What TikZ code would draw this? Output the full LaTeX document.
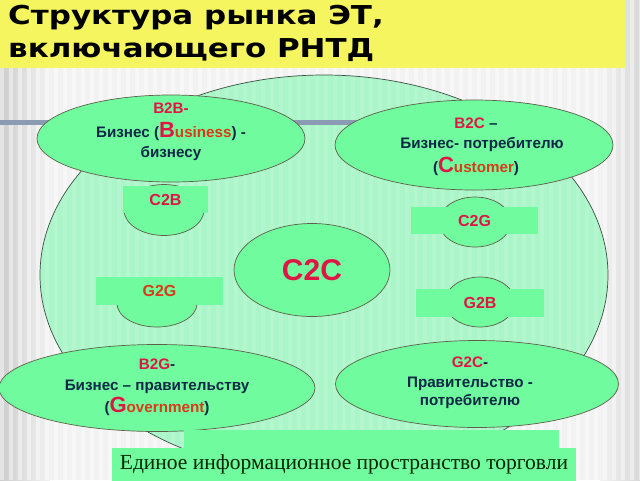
\documentclass[tikz,border=0pt]{standalone}
\usepackage{fontspec}
\setmainfont{Liberation Sans}
\newfontfamily\titlefont[FakeStretch=1.19]{DejaVu Sans}
\newfontfamily\seriffont{Liberation Serif}
\usetikzlibrary{shapes.geometric}
\definecolor{ttlyellow}{RGB}{245,245,95}
\definecolor{paleg}{RGB}{170,246,200}
\definecolor{mint}{RGB}{112,252,158}
\definecolor{edgec}{RGB}{95,95,75}
\definecolor{bigedge}{RGB}{60,80,70}
\definecolor{crim}{RGB}{222,22,70}
\definecolor{orng}{RGB}{215,60,25}
\definecolor{navy}{RGB}{12,40,70}
\definecolor{barc}{RGB}{140,155,180}
\definecolor{bgc}{RGB}{242,242,242}
\definecolor{bgdark}{RGB}{205,205,205}
\begin{document}
\begin{tikzpicture}[x=1pt,y=-1pt,
  ell/.style={ellipse, draw=edgec, line width=0.7pt, fill=mint, inner sep=0pt},
  patch/.style={rectangle, fill=mint, inner sep=0pt, font=\bfseries\fontsize{16}{16}\selectfont, text=crim},
  txt/.style={anchor=base, font=\bfseries\fontsize{15.2}{16}\selectfont, text=navy, inner sep=0pt},
  ttl/.style={anchor=base west, font=\titlefont\bfseries\fontsize{26}{26}\selectfont, text=black, inner sep=0pt}
]
\useasboundingbox (0,0) rectangle (640,480);
% background
\fill[bgc] (0,0) rectangle (640,480);
\shade[left color=bgdark, right color=bgc] (0,0) rectangle (50,480);
\shade[left color=bgc, right color=bgdark!70!bgc] (600,0) rectangle (640,480);
\foreach \i in {0,...,71} { \fill[white, opacity=0.45] (\i*9,0) rectangle (\i*9+4,480); }
% title
\fill[ttlyellow] (0,0) rectangle (625,68);
\node[ttl] (t1) at (8,24) {Структура рынка ЭТ,};
\node[ttl] (t2) at (8,57) {включающего РНТД};
% big ellipse
\node[ellipse, draw=bigedge, line width=0.7pt, fill=paleg, minimum width=568, minimum height=400, inner sep=0pt] (big) at (324,275) {};
\begin{scope}
\clip (324,275) ellipse [x radius=283, y radius=199];
\foreach \i in {5,...,70} { \fill[white, opacity=0.12] (\i*9,70) rectangle (\i*9+4,480); }
\end{scope}
% bar
\draw[barc, line width=5pt] (0,122) -- (470,122);
% small ellipses with patches
\node[ell, minimum width=80, minimum height=51] (c2bE) at (164,210) {};
\node[patch, minimum width=85, minimum height=27] (c2b) at (165.5,199.5) {C2B};
\node[ell, minimum width=80, minimum height=47] (g2gE) at (157,303.5) {};
\node[patch, minimum width=127, minimum height=28, text=orng] (g2g) at (159.5,291) {G2G};
\node[ell, minimum width=72, minimum height=50] (c2gE) at (475,222) {};
\node[patch, minimum width=127, minimum height=27] (c2g) at (474.5,220.5) {C2G};
\node[ell, minimum width=70, minimum height=50] (g2bE) at (480,302) {};
\node[patch, minimum width=128, minimum height=28] (g2b) at (480,303) {G2B};
% main ellipses
\node[ell, minimum width=268, minimum height=87] (b2b) at (171,138.5) {};
\node[ell, minimum width=278, minimum height=90] (b2c) at (474,145) {};
\node[ell, minimum width=316, minimum height=87] (b2g) at (157,388) {};
\node[ell, minimum width=283, minimum height=87] (g2c) at (477,384) {};
\node[ell, minimum width=156, minimum height=93, font=\bfseries\fontsize{30}{30}\selectfont, text=crim] (c2c) at (312,270) {C2C};
% texts
\node[txt, text=crim] (b2b1) at (171,113) {B2B-};
\node[txt] (b2b2) at (171,137) {Бизнес ({\fontsize{22}{22}\selectfont\color{crim}B}{\color{orng}usiness}) -};
\node[txt] (b2b3) at (171,157) {бизнесу};
\node[txt] (b2c1) at (476,128) {\textcolor{crim}{B2C} –};
\node[txt] (b2c2) at (482,148) {Бизнес- потребителю};
\node[txt] (b2c3) at (476,172) {({\fontsize{22}{22}\selectfont\color{crim}C}{\color{orng}ustomer})};
\node[txt] (b2g1) at (157,369) {\textcolor{crim}{B2G}-};
\node[txt] (b2g2) at (157,390) {Бизнес – правительству};
\node[txt] (b2g3) at (157,412) {({\fontsize{22}{22}\selectfont\color{crim}G}{\color{orng}overnment})};
\node[txt] (g2c1) at (470,367) {\textcolor{crim}{G2C}-};
\node[txt] (g2c2) at (470,387) {Правительство -};
\node[txt] (g2c3) at (470,405) {потребителю};
% bottom
\node[rectangle, fill=mint, minimum width=375, minimum height=18, inner sep=0pt] (upr) at (371.5,439) {};
\node[rectangle, fill=mint, minimum width=464, minimum height=33, inner sep=0pt, font=\seriffont\fontsize{21.5}{21.5}\selectfont, text=black!85!green] (info) at (344,464) {Единое информационное пространство торговли};
\end{tikzpicture}
\end{document}
